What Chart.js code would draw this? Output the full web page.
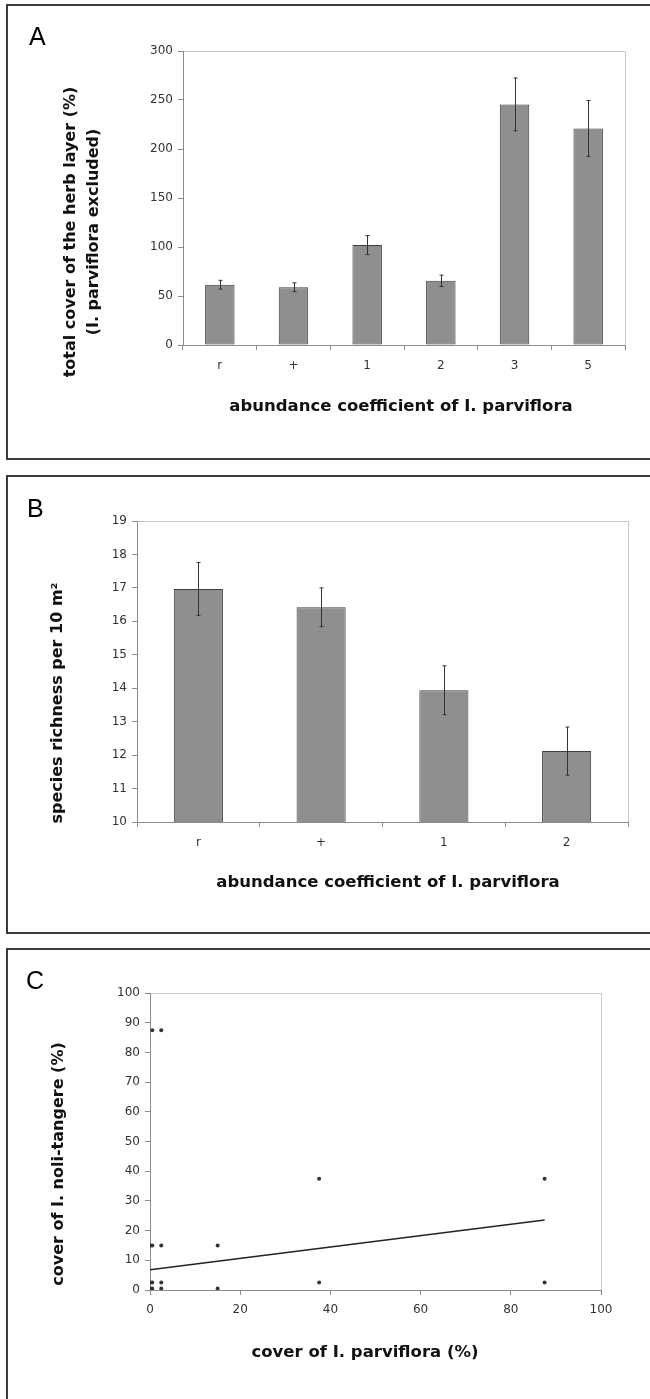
<!DOCTYPE html>
<html>
<head>
<meta charset="utf-8">
<title>Impatiens panels</title>
<script src="https://cdn.jsdelivr.net/npm/chart.js@4.4.1/dist/chart.umd.min.js"></script>
<style>
  body { margin: 0; background: #fff; }
  #page { position: relative; width: 650px; height: 1399px; overflow: hidden; }
  .panel { position: absolute; left: 6px; width: 700px; box-sizing: border-box; border: 2px solid #3a3a3a; }
  canvas { position: absolute; left: 0; }
</style>
</head>
<body>
<div id="page">
  <div class="panel" style="top:4px;height:456px"></div>
  <div class="panel" style="top:475px;height:459px"></div>
  <div class="panel" style="top:948px;height:500px"></div>
  <canvas id="chartA" width="650" height="460" style="top:0;width:650px;height:460px"></canvas>
  <canvas id="chartB" width="650" height="470" style="top:465px;width:650px;height:470px"></canvas>
  <canvas id="chartC" width="650" height="454" style="top:945px;width:650px;height:454px"></canvas>
</div>
<script>
// --- DATA ---
// A: total cover of herb layer by abundance class of I. parviflora
const coverClasses = ['r', '+', '1', '2', '3', '5'];
const coverMeans = [61.5, 59, 102, 65.5, 245.5, 221];
const coverErrors = [4.5, 4.5, 9.7, 5.8, 27, 28.5];
const coverTicks = [0, 50, 100, 150, 200, 250, 300];

// B: species richness per 10 m2
const richClasses = ['r', '+', '1', '2'];
const richMeans = [16.97, 16.42, 13.94, 12.12];
const richErrors = [0.79, 0.58, 0.73, 0.72];
const richTicks = [10, 11, 12, 13, 14, 15, 16, 17, 18, 19];

// C: cover of I. parviflora vs cover of I. noli-tangere
const parvCover = [0.5, 2.5, 37.5, 87.5, 0.1, 0.5, 2.5, 15, 0.1, 0.5, 2.5, 37.5, 87.5, 0.1, 0.5, 2.5, 15];
const noliCover = [87.5, 87.5, 37.5, 37.5, 15, 15, 15, 15, 2.5, 2.5, 2.5, 2.5, 2.5, 0.5, 0.5, 0.5, 0.5];
const trendX = [0, 87.5];
const trendY = [6.8, 23.6];
const coverAxisTicks = [0, 20, 40, 60, 80, 100];
const noliTicks = [0, 10, 20, 30, 40, 50, 60, 70, 80, 90, 100];

// --- DEFAULTS ---
Chart.defaults.font.family = '"DejaVu Sans", sans-serif';
Chart.defaults.font.size = 12;
Chart.defaults.color = '#333';
Chart.defaults.animation = false;

const axisGray = '#8c8c8c';

// light frame on top and right of the plot area (axes cover the other two sides)
const plotFrame = {
    id: 'plotFrame',
    beforeDraw(chart) {
        const { ctx, chartArea: a } = chart;
        ctx.save();
        ctx.strokeStyle = '#c8c8c8';
        ctx.lineWidth = 1;
        ctx.beginPath();
        ctx.moveTo(a.left, a.top + 0.5);
        ctx.lineTo(a.right + 0.5, a.top + 0.5);
        ctx.lineTo(a.right + 0.5, a.bottom);
        ctx.stroke();
        ctx.restore();
    }
};

// +/- error whiskers drawn from dataset.errors
const errorBars = {
    id: 'errorBars',
    afterDatasetsDraw(chart) {
        const ds = chart.data.datasets[0];
        if (!ds.errors) return;
        const meta = chart.getDatasetMeta(0);
        const yScale = chart.scales.y;
        const ctx = chart.ctx;
        ctx.save();
        ctx.strokeStyle = '#333';
        ctx.lineWidth = 1;
        meta.data.forEach((bar, i) => {
            const x = Math.round(bar.x) + 0.5;
            const hi = yScale.getPixelForValue(ds.data[i] + ds.errors[i]);
            const lo = yScale.getPixelForValue(ds.data[i] - ds.errors[i]);
            ctx.beginPath();
            ctx.moveTo(x, hi); ctx.lineTo(x, lo);
            ctx.moveTo(x - 2, hi); ctx.lineTo(x + 2, hi);
            ctx.moveTo(x - 2, lo); ctx.lineTo(x + 2, lo);
            ctx.stroke();
        });
        ctx.restore();
    }
};

// panel letter + axis titles
const panelText = {
    id: 'panelText',
    afterDraw(chart, args, opts) {
        const ctx = chart.ctx;
        ctx.save();
        ctx.fillStyle = '#000';
        ctx.font = '25px "Liberation Sans", Arial, sans-serif';
        ctx.textAlign = 'left';
        ctx.textBaseline = 'alphabetic';
        ctx.fillText(opts.letter, opts.letterX, opts.letterY);

        ctx.fillStyle = '#111';
        ctx.textAlign = 'center';
        ctx.textBaseline = 'middle';
        ctx.font = 'bold 16.5px "DejaVu Sans", sans-serif';
        ctx.fillText(opts.xTitle, opts.xTitleX, opts.xTitleY);

        ctx.font = 'bold 16px "DejaVu Sans", sans-serif';
        opts.yTitle.forEach((line, i) => {
            ctx.save();
            ctx.translate(opts.yTitleX[i], opts.yTitleY);
            ctx.rotate(-Math.PI / 2);
            ctx.fillText(line, 0, 0);
            ctx.restore();
        });
        ctx.restore();
    }
};

function barAxes(yTicks, yWidth, xHeight) {
    return {
        x: {
            grid: { offset: true, drawOnChartArea: false, tickLength: 5, color: axisGray },
            border: { color: axisGray },
            ticks: { padding: 9 },
            afterFit: s => { s.height = xHeight; }
        },
        y: {
            min: yTicks[0],
            max: yTicks[yTicks.length - 1],
            ticks: { stepSize: yTicks[1] - yTicks[0], padding: 5 },
            grid: { drawOnChartArea: false, tickLength: 5, color: axisGray },
            border: { color: axisGray },
            afterFit: s => { s.width = yWidth; }
        }
    };
}

function barDataset(values, errors) {
    return {
        data: values,
        errors: errors,
        backgroundColor: '#8f8f8f',
        borderColor: '#3e3e3e',
        borderWidth: 1,
        borderSkipped: false,
        categoryPercentage: 1,
        barPercentage: 0.4
    };
}

// --- A ---
new Chart(document.getElementById('chartA'), {
    type: 'bar',
    data: { labels: coverClasses, datasets: [barDataset(coverMeans, coverErrors)] },
    options: {
        responsive: false, maintainAspectRatio: false,
        layout: { padding: { left: 0, top: 51, right: 25, bottom: 0 } },
        scales: barAxes(coverTicks, 183, 115),
        plugins: {
            legend: { display: false }, tooltip: { enabled: false },
            panelText: {
                letter: 'A', letterX: 29, letterY: 45,
                xTitle: 'abundance coefficient of I. parviflora', xTitleX: 401, xTitleY: 407,
                yTitle: ['total cover of the herb layer (%)', '(I. parviflora excluded)'],
                yTitleX: [71, 94], yTitleY: 232
            }
        }
    },
    plugins: [plotFrame, errorBars, panelText]
});

// --- B ---
new Chart(document.getElementById('chartB'), {
    type: 'bar',
    data: { labels: richClasses, datasets: [barDataset(richMeans, richErrors)] },
    options: {
        responsive: false, maintainAspectRatio: false,
        layout: { padding: { left: 0, top: 56, right: 22, bottom: 0 } },
        scales: barAxes(richTicks, 137, 113),
        plugins: {
            legend: { display: false }, tooltip: { enabled: false },
            panelText: {
                letter: 'B', letterX: 27, letterY: 52,
                xTitle: 'abundance coefficient of I. parviflora', xTitleX: 388, xTitleY: 418,
                yTitle: ['species richness per 10 m\u00b2'],
                yTitleX: [58], yTitleY: 238
            }
        }
    },
    plugins: [plotFrame, errorBars, panelText]
});

// --- C ---
new Chart(document.getElementById('chartC'), {
    type: 'scatter',
    data: {
        datasets: [
            {
                data: parvCover.map((x, i) => ({ x: x, y: noliCover[i] })),
                pointRadius: 2,
                pointBackgroundColor: '#333',
                pointBorderWidth: 0
            },
            {
                type: 'line',
                data: trendX.map((x, i) => ({ x: x, y: trendY[i] })),
                borderColor: '#222',
                borderWidth: 1.5,
                pointRadius: 0,
                fill: false
            }
        ]
    },
    options: {
        responsive: false, maintainAspectRatio: false,
        layout: { padding: { left: 0, top: 48, right: 49, bottom: 0 } },
        scales: {
            x: {
                type: 'linear',
                min: coverAxisTicks[0], max: coverAxisTicks[coverAxisTicks.length - 1],
                ticks: { stepSize: coverAxisTicks[1] - coverAxisTicks[0], padding: 8 },
                grid: { drawOnChartArea: false, tickLength: 5, color: axisGray },
                border: { color: axisGray },
                afterFit: s => { s.height = 109; }
            },
            y: {
                min: noliTicks[0], max: noliTicks[noliTicks.length - 1],
                ticks: { stepSize: noliTicks[1] - noliTicks[0], padding: 5 },
                grid: { drawOnChartArea: false, tickLength: 5, color: axisGray },
                border: { color: axisGray },
                afterFit: s => { s.width = 150; }
            }
        },
        plugins: {
            legend: { display: false }, tooltip: { enabled: false },
            panelText: {
                letter: 'C', letterX: 26, letterY: 44,
                xTitle: 'cover of I. parviflora (%)', xTitleX: 365, xTitleY: 408,
                yTitle: ['cover of I. noli-tangere (%)'],
                yTitleX: [59], yTitleY: 219
            }
        }
    },
    plugins: [plotFrame, panelText]
});
</script>
</body>
</html>
